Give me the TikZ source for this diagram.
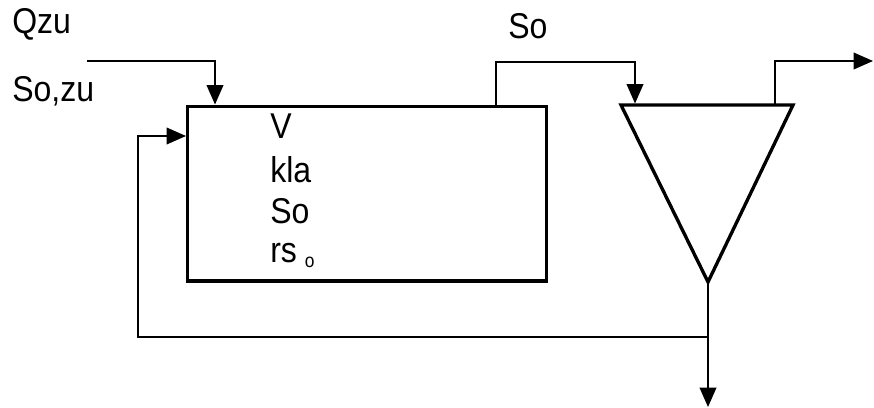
\documentclass[tikz,border=0pt]{standalone}
\usepackage{fontspec}
\usepackage{graphicx}
\setmainfont{Liberation Sans}
\usetikzlibrary{arrows.meta,calc}
\newcommand{\tall}[1]{\scalebox{1}[1.12]{#1}}

\begin{document}
\begin{tikzpicture}[x=0.75pt, y=-0.75pt,
    lbl/.style={font=\fontsize{24}{29}\selectfont, anchor=base west, inner sep=0pt},
    tank/.style={draw, line width=2.5pt, minimum width=269pt, minimum height=131pt, inner sep=0pt},
    arr/.style={-{Triangle[length=14.5pt, width=12.5pt]}, line width=1.1pt}
]
\useasboundingbox (0,0) rectangle (874,407);

\node[tank] (reactor) at (367,193.5) {};
\node[lbl] (v) at (270,138) {\tall{V}};
\node[lbl] (kla) at (270,182) {\tall{kla}};
\node[lbl] (so) at (270,223) {\tall{So}};
\node[lbl] (rs) at (270,262) {\tall{rs}\hspace{6pt}\raisebox{-3.75pt}{\fontsize{13}{15}\selectfont\tall{o}}};

\node[lbl] (qzu) at (12,33) {\tall{Qzu}};
\node[lbl] (sozu) at (12,101) {\tall{So,zu}};
\node[lbl] (sout) at (508,38) {\tall{So}};

% clarifier
\coordinate (tl) at (621,105);
\coordinate (tr) at (793,105);
\coordinate (tip) at (708,282);
\draw[line width=2.5pt] (tl) -- (tr) -- (tip) -- cycle;

\coordinate (qin) at (87,61);
\coordinate (qend) at (215,0);
\draw[arr] (qin) -| (qend |- reactor.north);

\coordinate (ovf) at (496,62);
\coordinate (sin) at (635,103.5);
\draw[arr] (reactor.north -| ovf) -- (ovf) -| (sin);

\coordinate (eff) at (775,105);
\coordinate (effout) at (873,61);
\draw[arr] (eff) |- (effout);

\coordinate (was) at (708,407);
\draw[arr] (tip) -- (was);

\coordinate (jn) at (708,337);
\coordinate (retin) at (138,136);
\draw[arr] (jn) -| (retin) -- (reactor.west |- retin);
\end{tikzpicture}
\end{document}
